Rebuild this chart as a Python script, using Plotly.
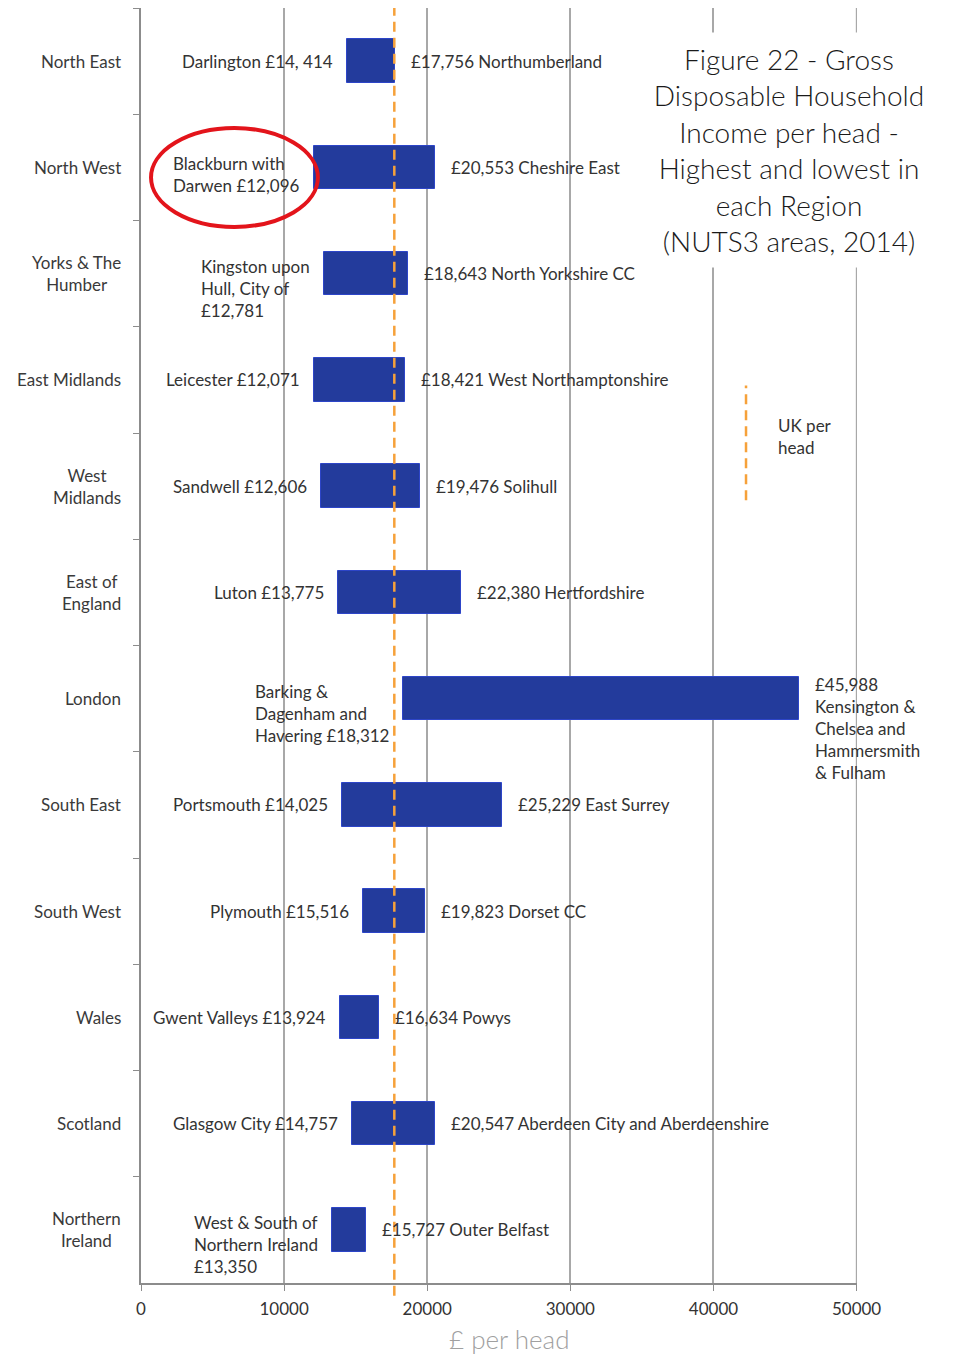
"""Gross disposable household income per head - highest and lowest NUTS3 area in each region."""
import plotly.graph_objects as go

regions = [
    "North East", "North West", "Yorks & The Humber", "East Midlands",
    "West Midlands", "East of England", "London", "South East",
    "South West", "Wales", "Scotland", "Northern Ireland",
]
region_ticktext = [
    "North East", "North West", "Yorks & The<br>Humber", "East Midlands",
    "West<br>Midlands", "East of<br>England", "London", "South East",
    "South West", "Wales", "Scotland", "Northern<br>Ireland",
]
lowest_values = [14414, 12096, 12781, 12071, 12606, 13775, 18312, 14025, 15516, 13924, 14757, 13350]
highest_values = [17756, 20553, 18643, 18421, 19476, 22380, 45988, 25229, 19823, 16634, 20547, 15727]
lowest_labels = [
    "Darlington £14, 414",
    "Blackburn with<br>Darwen £12,096",
    "Kingston upon<br>Hull, City of<br>£12,781",
    "Leicester £12,071",
    "Sandwell £12,606",
    "Luton £13,775",
    "Barking &<br>Dagenham and<br>Havering £18,312",
    "Portsmouth £14,025",
    "Plymouth £15,516",
    "Gwent Valleys £13,924",
    "Glasgow City £14,757",
    "West & South of<br>Northern Ireland<br>£13,350",
]
highest_labels = [
    "£17,756 Northumberland",
    "£20,553 Cheshire East",
    "£18,643 North Yorkshire CC",
    "£18,421 West Northamptonshire",
    "£19,476 Solihull",
    "£22,380 Hertfordshire",
    "£45,988<br>Kensington &<br>Chelsea and<br>Hammersmith<br>& Fulham",
    "£25,229 East Surrey",
    "£19,823 Dorset CC",
    "£16,634 Powys",
    "£20,547 Aberdeen City and Aberdeenshire",
    "£15,727 Outer Belfast",
]
uk_per_head = 17700
x_ticks = [0, 10000, 20000, 30000, 40000, 50000]

LABEL_FONT = dict(family="Lato, sans-serif", size=17, color="#333333")
ORANGE = "#f6a13a"
GRID = "#a8a8a8"

fig = go.Figure()
fig.add_trace(go.Bar(
    y=regions,
    x=[h - l for h, l in zip(highest_values, lowest_values)],
    base=lowest_values,
    orientation="h",
    width=0.41,
    marker=dict(color="#233b9c", line=dict(color="#2d45c8", width=1)),
    hoverinfo="skip",
    showlegend=False,
))

annotations = []
# region names: centred lines, right edge left of the axis
for region, tick in zip(regions, region_ticktext):
    annotations.append(dict(
        x=0, xref="paper", y=region, yref="y", text=tick, showarrow=False,
        xanchor="right", xshift=-18, align="center",
        font=dict(family="Lato, sans-serif", size=17, color="#3a3a3a"),
    ))

for region, low, high, low_txt, high_txt in zip(regions, lowest_values, highest_values,
                                                lowest_labels, highest_labels):
    n_low = low_txt.count("<br>")
    n_high = high_txt.count("<br>")
    annotations.append(dict(
        x=low, y=region, text=low_txt, showarrow=False, xanchor="right", xshift=-12,
        yanchor="middle", yshift=-7.5 * n_low, align="left", font=LABEL_FONT,
    ))
    annotations.append(dict(
        x=high, y=region, text=high_txt, showarrow=False, xanchor="left", xshift=14,
        yanchor="middle", yshift=-7.5 * n_high, align="left", font=LABEL_FONT,
    ))

# title box sits on top of the gridlines
annotations.append(dict(
    x=0.905, xref="paper", y=0.889, yref="paper", showarrow=False,
    xanchor="center", yanchor="middle",
    text="Figure 22 - Gross<br>Disposable Household<br>Income per head -<br>"
         "Highest and lowest in<br>each Region<br>(NUTS3 areas, 2014)",
    font=dict(family="Lato, sans-serif", size=28, color="#1a1a1a", weight=300),
    align="center", bgcolor="white", width=288, height=232,
))
annotations.append(dict(
    x=0.887, xref="paper", y=0.664, yref="paper", showarrow=False,
    text="UK per<br>head", xanchor="left", yanchor="middle", align="left", font=LABEL_FONT,
))
annotations.append(dict(
    x=0.515, xref="paper", y=-0.044, yref="paper", showarrow=False,
    xanchor="center", yanchor="middle",
    text="£ per head", font=dict(family="Lato, sans-serif", size=26, color="#a0a0a0", weight=300),
))

shapes = [
    # plotly drops the gridline sitting on the right edge of the plot
    dict(type="line", xref="x", yref="paper", x0=x_ticks[-1], x1=x_ticks[-1], y0=0, y1=1,
         line=dict(color=GRID, width=1.5), layer="below"),
    dict(type="line", xref="x", yref="paper", x0=uk_per_head, x1=uk_per_head, y0=-0.01, y1=1,
         line=dict(color=ORANGE, width=2.5, dash="10px,6px"), layer="above"),
    dict(type="line", xref="paper", yref="paper", x0=0.845, x1=0.845, y0=0.614, y1=0.704,
         line=dict(color=ORANGE, width=2.5, dash="10px,6px")),
    dict(type="circle", xref="x", yref="y", x0=700, x1=12360, y0=0.63, y1=1.56,
         line=dict(color="#e3141b", width=4), layer="above"),
]

# page body adds an 8px margin, so the figure is 8px smaller than the window
fig.update_layout(
    width=947, height=1348,
    margin=dict(l=133, r=98, t=0, b=73),
    paper_bgcolor="white", plot_bgcolor="white",
    annotations=annotations, shapes=shapes,
    bargap=0,
)
fig.update_xaxes(
    range=[0, 50030], tickvals=x_ticks, tickformat="d",
    showgrid=True, gridcolor=GRID, gridwidth=1.5, zeroline=False,
    showline=True, linecolor="#8c8c8c", linewidth=1.5,
    ticks="outside", ticklen=6, tickcolor="#8c8c8c", ticklabelstandoff=4,
    tickfont=dict(family="Lato, sans-serif", size=17, color="#333333"),
)
fig.update_yaxes(
    type="category", categoryorder="array", categoryarray=regions,
    autorange="reversed", showticklabels=False, showgrid=False,
    showline=True, linecolor="#8c8c8c", linewidth=1.5,
    ticks="outside", tickson="boundaries", ticklen=6, tickcolor="#8c8c8c",
)

fig.write_html("out.html")
